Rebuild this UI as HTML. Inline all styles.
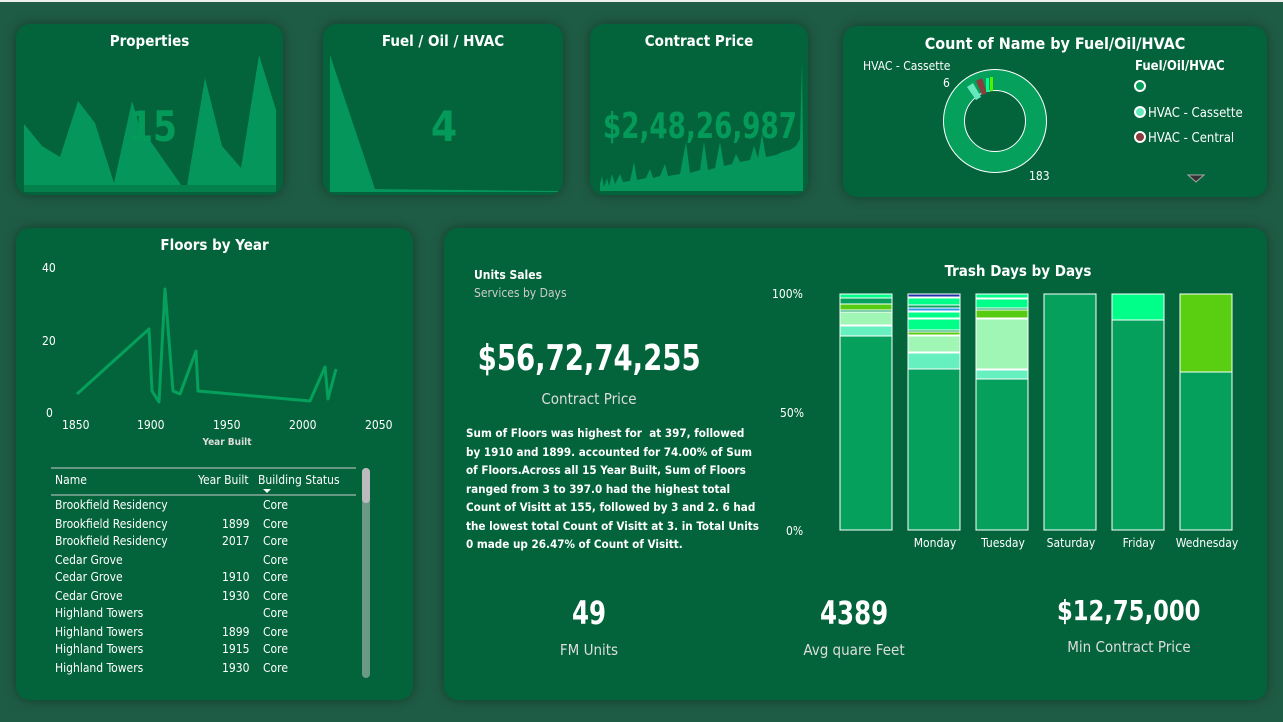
<!DOCTYPE html>
<html><head><meta charset="utf-8"><style>
body{margin:0;width:1283px;height:722px;background:#1f5c45;font-family:"DejaVu Sans Condensed","Liberation Sans",sans-serif;color:#fff;position:relative;overflow:hidden}
.c{position:absolute;background:#03643b;border-radius:14px;box-shadow:0 0 12px rgba(0,0,0,.35);overflow:hidden}
.t{position:absolute;left:0;right:0;text-align:center;font-weight:bold;font-size:15px}
.a{position:absolute;font-size:12px}
.sx{display:inline-block;transform:scaleX(.85)}
</style></head><body>
<div style="position:absolute;left:0;top:0;width:1283px;height:2px;background:#eee"></div>
<div class="c" style="left:16px;top:24px;width:267px;height:171px">
<div class="t" style="top:8px">Properties</div>
<svg width="267" height="171" style="position:absolute;left:0;top:0"><polygon fill="#04965a" points="8,168 8,100 26,122 44,133 62,77 79,99 98,159 116,77 126,110 135,118 170,168 189,54 206,122 225,144 243,31 260,86 260,168"/>
<rect x="8" y="161" width="252" height="7" fill="#03804c"/>
<text x="137" y="117" text-anchor="middle" font-size="42" font-weight="bold" fill="#049a5a" textLength="48" lengthAdjust="spacingAndGlyphs">15</text></svg>
</div>
<div class="c" style="left:323px;top:24px;width:240px;height:171px">
<div class="t" style="top:8px">Fuel / Oil / HVAC</div>
<svg width="240" height="171" style="position:absolute;left:0;top:0"><polygon fill="#04965a" points="7,167 7,31 52,165 235,167 235,168 7,168"/>
<text x="121" y="117" text-anchor="middle" font-size="42" font-weight="bold" fill="#049a5a">4</text></svg>
</div>
<div class="c" style="left:590px;top:24px;width:218px;height:171px">
<div class="t" style="top:8px">Contract Price</div>
<svg width="218" height="171" style="position:absolute;left:0;top:0"><polygon fill="#04965a" points="10,167 10,160 12,152 14,163 17,154 19,162 22,150 25,160 30,150 33,158 40,157 44,138 47,156 56,154 60,145 63,154 70,152 75,140 78,152 90,150 96,118 100,149 110,146 114,118 118,146 125,144 130,118 134,142 142,140 146,130 150,138 160,136 164,122 168,134 172,110 176,133 186,131 192,128 200,126 206,122 210,115 212,38 213,120 213,167"/>
<text x="110" y="114" text-anchor="middle" font-size="36" font-weight="bold" fill="#049a5a" textLength="194" lengthAdjust="spacingAndGlyphs">$2,48,26,987</text></svg>
</div>
<div class="c" style="left:843px;top:26px;width:424px;height:171px">
<div class="t" style="top:8px;font-size:16px">Count of Name by Fuel/Oil/HVAC</div>
<svg width="424" height="171" style="position:absolute;left:0;top:0">
<circle cx="152" cy="95" r="41" fill="none" stroke="#fff" stroke-width="22"/>
<circle cx="152" cy="95" r="41" fill="none" stroke="#04a05c" stroke-width="20"/>
<path d="M124,61 l6,-4 8,14 -5,3z" fill="#66e8bf"/><path d="M133,55 l6,-3 5,15 -5,2z" fill="#8b3c3c"/>
<rect x="143" y="52" width="3" height="14" fill="#00ff88"/><rect x="147" y="51" width="3" height="14" fill="#55ee00"/>
<text x="20" y="44" font-size="12" fill="#fff">HVAC - Cassette</text><text x="100" y="61" font-size="12" fill="#fff">6</text>
<text x="186" y="154" font-size="12" fill="#fff">183</text>
<text x="292" y="44" font-size="13" font-weight="bold" fill="#fff">Fuel/Oil/HVAC</text>
<circle cx="297" cy="60" r="5" fill="#04a05c" stroke="#fff" stroke-width="2"/>
<circle cx="297" cy="86" r="5" fill="#66e8bf" stroke="#fff" stroke-width="2"/><text x="305" y="91" font-size="13" fill="#fff">HVAC - Cassette</text>
<circle cx="297" cy="111" r="5" fill="#8b3c3c" stroke="#fff" stroke-width="2"/><text x="305" y="116" font-size="13" fill="#fff">HVAC - Central</text>
<polygon points="345,149 361,149 353,156" fill="#333" stroke="#aaa"/></svg>
</div>
<div class="c" style="left:16px;top:228px;width:397px;height:472px">
<div class="t" style="top:8px">Floors by Year</div>
<svg width="397" height="472" style="position:absolute;left:0;top:0;font-size:12px">
<text x="26" y="44" fill="#fff">40</text><text x="26" y="117" fill="#fff">20</text><text x="30" y="189" fill="#fff">0</text>
<text x="46" y="201" fill="#fff">1850</text><text x="121" y="201" fill="#fff">1900</text><text x="197" y="201" fill="#fff">1950</text><text x="273" y="201" fill="#fff">2000</text><text x="349" y="201" fill="#fff">2050</text>
<text x="211" y="217" text-anchor="middle" font-size="10" font-weight="bold" fill="#ddd">Year Built</text>
<polyline fill="none" stroke="#04a05c" stroke-width="3" stroke-linejoin="round" points="61,166 133,101 136,163 143,174 149,61 157,163 164,166 180,123 182,163 294,173 309,139 312,171 320,141"/>
<line x1="35" y1="240" x2="340" y2="240" stroke="#ccc"/>
<line x1="35" y1="267" x2="340" y2="267" stroke="#ccc"/>
<text x="39" y="256" fill="#fff">Name</text><text x="182" y="256" fill="#fff">Year Built</text><text x="242" y="256" fill="#fff">Building Status</text>
<polygon points="247,261 255,261 251,265" fill="#fff"/>
<rect x="346" y="240" width="8" height="210" rx="4" fill="#6a9a86"/><rect x="346" y="240" width="8" height="35" rx="4" fill="#bbb"/>
<g fill="#fff">
<text x="39" y="281">Brookfield Residency</text><text x="247" y="281">Core</text>
<text x="39" y="300">Brookfield Residency</text><text x="206" y="300">1899</text><text x="247" y="300">Core</text>
<text x="39" y="317">Brookfield Residency</text><text x="206" y="317">2017</text><text x="247" y="317">Core</text>
<text x="39" y="336">Cedar Grove</text><text x="247" y="336">Core</text>
<text x="39" y="353">Cedar Grove</text><text x="206" y="353">1910</text><text x="247" y="353">Core</text>
<text x="39" y="372">Cedar Grove</text><text x="206" y="372">1930</text><text x="247" y="372">Core</text>
<text x="39" y="389">Highland Towers</text><text x="247" y="389">Core</text>
<text x="39" y="408">Highland Towers</text><text x="206" y="408">1899</text><text x="247" y="408">Core</text>
<text x="39" y="425">Highland Towers</text><text x="206" y="425">1915</text><text x="247" y="425">Core</text>
<text x="39" y="444">Highland Towers</text><text x="206" y="444">1930</text><text x="247" y="444">Core</text></g></svg>
</div>
<div class="c" style="left:444px;top:228px;width:823px;height:472px">
<div class="a" style="left:30px;top:40px;font-weight:bold">Units Sales</div>
<div class="a" style="left:30px;top:58px;color:#ccc">Services by Days</div>
<div class="a" style="left:0;width:290px;text-align:center;top:110px;font-size:36px;font-weight:bold"><span class="sx">$56,72,74,255</span></div>
<div class="a" style="left:0;width:290px;text-align:center;top:162px;font-size:15px;color:#ddd">Contract Price</div>
<div class="a" style="left:22px;top:196px;width:296px;font-weight:bold;line-height:18.5px;font-size:11.6px">Sum of Floors was highest for &nbsp;at 397, followed by 1910 and 1899. accounted for 74.00% of Sum of Floors.Across all 15 Year Built, Sum of Floors ranged from 3 to 397.0 had the highest total Count of Visitt at 155, followed by 3 and 2. 6 had the lowest total Count of Visitt at 3. in Total Units 0 made up 26.47% of Count of Visitt.</div>
<div class="t" style="left:400px;width:348px;top:34px">Trash Days by Days</div>
<svg width="823" height="472" style="position:absolute;left:0;top:0;font-size:12px">
<g fill="#fff"><text x="328" y="70">100%</text><text x="336" y="189">50%</text><text x="342" y="307">0%</text>
<text x="491" y="319" text-anchor="middle">Monday</text><text x="559" y="319" text-anchor="middle">Tuesday</text><text x="627" y="319" text-anchor="middle">Saturday</text><text x="695" y="319" text-anchor="middle">Friday</text><text x="763" y="319" text-anchor="middle">Wednesday</text></g>
<g stroke="#fff" stroke-width="1">
<rect x="396" y="66" width="52" height="236" fill="#04a05c"/><rect x="396" y="66" width="52" height="4" fill="#00ff88"/><rect x="396" y="76" width="52" height="6" fill="#55cc11"/><rect x="396" y="84" width="52" height="13" fill="#a0f7b5"/><rect x="396" y="98" width="52" height="10" fill="#66f0c0"/>
<rect x="464" y="66" width="52" height="236" fill="#04a05c"/><rect x="464" y="66" width="52" height="3" fill="#2233aa"/><rect x="464" y="70" width="52" height="7" fill="#00ff88"/><rect x="464" y="80" width="52" height="3" fill="#3399ee"/><rect x="464" y="84" width="52" height="6" fill="#00ff88"/><rect x="464" y="91" width="52" height="11" fill="#00ff88"/><rect x="464" y="104" width="52" height="3" fill="#55cc11"/><rect x="464" y="108" width="52" height="16" fill="#a0f7b5"/><rect x="464" y="125" width="52" height="16" fill="#66f0c0"/>
<rect x="532" y="66" width="52" height="236" fill="#04a05c"/><rect x="532" y="66" width="52" height="4" fill="#00ff88"/><rect x="532" y="71" width="52" height="9" fill="#00ff88"/><rect x="532" y="82" width="52" height="8" fill="#55cc11"/><rect x="532" y="91" width="52" height="50" fill="#a0f7b5"/><rect x="532" y="142" width="52" height="9" fill="#66f0c0"/>
<rect x="600" y="66" width="52" height="236" fill="#04a05c"/>
<rect x="668" y="66" width="52" height="236" fill="#04a05c"/><rect x="668" y="66" width="52" height="26" fill="#00ff88"/>
<rect x="736" y="66" width="52" height="236" fill="#04a05c"/><rect x="736" y="66" width="52" height="78" fill="#5acf12"/></g>
</svg>
<div class="a" style="left:80px;width:130px;text-align:center;top:366px;font-size:32px;font-weight:bold"><span class="sx">49</span></div>
<div class="a" style="left:80px;width:130px;text-align:center;top:413px;font-size:15px;color:#ddd">FM Units</div>
<div class="a" style="left:340px;width:140px;text-align:center;top:366px;font-size:32px;font-weight:bold"><span class="sx">4389</span></div>
<div class="a" style="left:340px;width:140px;text-align:center;top:413px;font-size:15px;color:#ddd">Avg quare Feet</div>
<div class="a" style="left:590px;width:190px;text-align:center;top:366px;font-size:28px;font-weight:bold"><span class="sx" style="transform:scaleX(.9)">$12,75,000</span></div>
<div class="a" style="left:590px;width:190px;text-align:center;top:410px;font-size:15px;color:#ddd">Min Contract Price</div>
</div>
</body></html>
